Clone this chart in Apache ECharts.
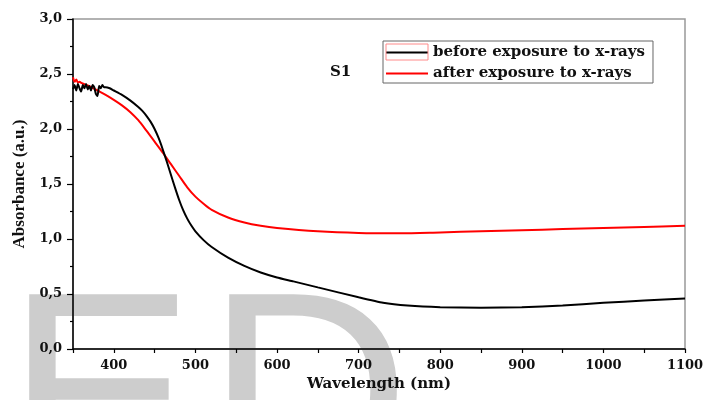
<!DOCTYPE html>
<html>
<head>
<meta charset="utf-8">
<script src="https://cdn.jsdelivr.net/npm/echarts@6/dist/echarts.min.js"></script>
<style>
  html, body { margin: 0; padding: 0; background: #fff; }
  #chart { width: 715px; height: 400px; }
</style>
</head>
<body>
<div id="chart"></div>
<script>
// 数据
const wlBefore = [350, 352, 354, 356, 358, 360, 362, 364, 366, 368, 370, 372, 374, 376, 378, 380, 382, 384, 386, 388, 390,
  395, 400, 410, 420, 430, 435, 440, 445, 450, 455, 460, 465, 470, 475, 480, 485, 490, 495, 500, 510, 520, 540, 560, 580, 600, 620, 650,
  700, 730, 760, 800, 850, 900, 950, 1000, 1050, 1100]
const absBefore = [2.36, 2.40, 2.35, 2.41, 2.37, 2.34, 2.40, 2.37, 2.41, 2.36, 2.39, 2.35, 2.40, 2.38, 2.32, 2.30, 2.39, 2.37, 2.40, 2.38, 2.38,
  2.37, 2.35, 2.31, 2.26, 2.20, 2.165, 2.12, 2.067, 2.00, 1.916, 1.814, 1.702, 1.584, 1.467, 1.357, 1.262, 1.185, 1.122, 1.07, 0.99, 0.927,
  0.83, 0.755, 0.695, 0.65, 0.615, 0.56, 0.47, 0.42, 0.395, 0.38, 0.375, 0.38, 0.395, 0.42, 0.44, 0.46]

const wlAfter = [350, 352, 354, 356, 358, 360, 370, 380, 390, 400, 410, 420, 430, 440, 450, 460, 470, 480, 490, 500,
  510, 520, 540, 560, 580, 600, 650, 700, 750, 800, 850, 900, 950, 1000, 1050, 1100]
const absAfter = [2.47, 2.43, 2.45, 2.42, 2.43, 2.42, 2.39, 2.35, 2.31, 2.265, 2.215, 2.155, 2.08, 1.985, 1.885, 1.785, 1.68, 1.575, 1.47, 1.385,
  1.32, 1.265, 1.195, 1.15, 1.12, 1.10, 1.07, 1.055, 1.052, 1.06, 1.07, 1.08, 1.09, 1.10, 1.11, 1.12]

const xTicks = [350, 400, 450, 500, 550, 600, 650, 700, 750, 800, 850, 900, 950, 1000, 1050, 1100]
const xLabels = [400, 500, 600, 700, 800, 900, 1000, 1100]
const seriesNames = ['before exposure to x-rays', 'after exposure to x-rays']

const zip = (xs, ys) => xs.map((x, i) => [x, ys[i]])

const mChart = echarts.init(document.getElementById('chart'))
const serif = 'DejaVu Serif'

const options = {
  animation: false,
  grid: {
    left: 73, right: 30, top: 19, bottom: 51,
    show: true,
    borderColor: '#999',
    borderWidth: 1.5
  },
  legend: {
    data: seriesNames,
    orient: 'vertical',
    left: 383,
    top: 41,
    icon: 'rect',
    itemWidth: 42,
    itemHeight: 2,
    itemGap: 6,
    padding: [4, 8, 2, 3],
    borderColor: '#666',
    borderWidth: 1,
    textStyle: { fontFamily: serif, fontWeight: 'bold', fontSize: 15, lineHeight: 14, color: '#111' }
  },
  xAxis: {
    type: 'value',
    min: 350,
    max: 1100,
    name: 'Wavelength (nm)',
    nameLocation: 'middle',
    nameGap: 28,
    nameTextStyle: { fontFamily: serif, fontWeight: 'bold', fontSize: 15, color: '#111' },
    splitLine: { show: false },
    axisLine: { lineStyle: { color: '#000', width: 1.5 } },
    axisTick: { customValues: xTicks, length: 4, lineStyle: { color: '#000', width: 1.2 } },
    axisLabel: {
      customValues: xLabels,
      margin: 10,
      fontFamily: serif, fontWeight: 'bold', fontSize: 13, color: '#111',
      formatter: v => String(v)
    }
  },
  yAxis: {
    type: 'value',
    min: 0,
    max: 3,
    interval: 0.5,
    name: 'Absorbance (a.u.)',
    nameLocation: 'middle',
    nameGap: 45,
    nameTextStyle: { fontFamily: 'Liberation Serif', fontWeight: 'bold', fontSize: 17, color: '#111' },
    splitLine: { show: false },
    axisLine: { show: true, lineStyle: { color: '#000', width: 1.5 } },
    axisTick: { show: true, length: 6, lineStyle: { color: '#000', width: 1.2 } },
    minorTick: { show: true, splitNumber: 2, length: 3, lineStyle: { color: '#000', width: 1.2 } },
    axisLabel: {
      margin: 11,
      fontFamily: serif, fontWeight: 'bold', fontSize: 13, color: '#111',
      formatter: v => v.toFixed(1).replace('.', ',')
    }
  },
  graphic: [
    //背景水印
    {
      type: 'text', x: 6, y: 411, z: -10, silent: true,
      style: { text: 'E', fill: '#cdcdcd', font: '283px "Liberation Sans"', verticalAlign: 'middle', align: 'left' }
    },
    {
      type: 'text', x: 206, y: 411, z: -10, silent: true,
      style: { text: 'D', fill: '#cdcdcd', font: '283px "Liberation Sans"', verticalAlign: 'middle', align: 'left' }
    },
    {
      type: 'text', x: 330, y: 72, z: 10,
      style: { text: 'S1', fill: '#111', font: 'bold 15px "DejaVu Serif"', verticalAlign: 'middle' }
    },
    {
      type: 'rect', x: 386, y: 44, z: 10,
      shape: { width: 42, height: 16 },
      style: { fill: 'none', stroke: '#ff8a8a', lineWidth: 1 }
    }
  ],
  series: [
    {
      name: seriesNames[0],
      type: 'line',
      symbol: 'none',
      smooth: 0.15,
      data: zip(wlBefore, absBefore),
      lineStyle: { color: '#000', width: 2 },
      itemStyle: { color: '#000' },
      z: 3
    },
    {
      name: seriesNames[1],
      type: 'line',
      symbol: 'none',
      smooth: 0.3,
      data: zip(wlAfter, absAfter),
      lineStyle: { color: '#ff0000', width: 2 },
      itemStyle: { color: '#ff0000' },
      z: 2
    }
  ]
}
mChart.setOption(options)
</script>
</body>
</html>
